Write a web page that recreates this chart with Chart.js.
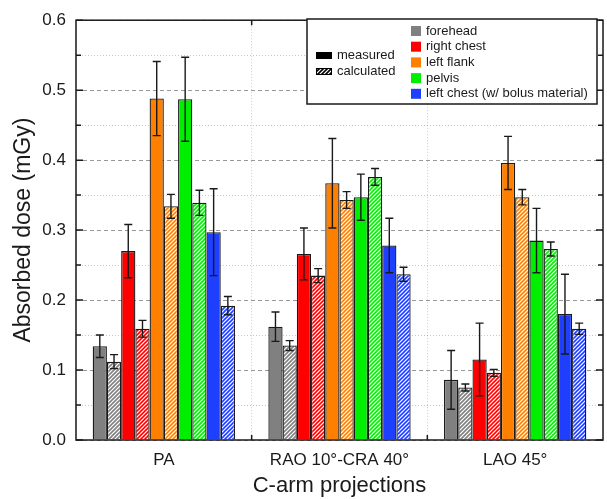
<!DOCTYPE html>
<html>
<head>
<meta charset="utf-8">
<script src="https://cdn.jsdelivr.net/npm/chart.js@4.4.1/dist/chart.umd.min.js"></script>
<style>
  html, body { margin: 0; padding: 0; background: #fff; }
</style>
</head>
<body>
<canvas id="doseChart" width="607" height="499"></canvas>
<script>
const categories = ['PA', 'RAO 10°-CRA 40°', 'LAO 45°'];
const regions = ['forehead', 'right chest', 'left flank', 'pelvis', 'left chest (w/ bolus material)'];
const yTicks = [0, 0.1, 0.2, 0.3, 0.4, 0.5, 0.6];

// one row per region, one value per projection
const measuredDose = [
  [0.134, 0.162, 0.086],
  [0.270, 0.266, 0.115],
  [0.488, 0.367, 0.396],
  [0.487, 0.347, 0.285],
  [0.297, 0.278, 0.180]
];
const measuredErr = [
  [0.016, 0.021, 0.042],
  [0.038, 0.037, 0.052],
  [0.053, 0.064, 0.038],
  [0.060, 0.033, 0.046],
  [0.062, 0.039, 0.057]
];
const calculatedDose = [
  [0.112, 0.135, 0.075],
  [0.159, 0.235, 0.096],
  [0.334, 0.343, 0.347],
  [0.339, 0.376, 0.273],
  [0.192, 0.237, 0.159]
];
const calculatedErr = [
  [0.010, 0.007, 0.005],
  [0.012, 0.010, 0.005],
  [0.017, 0.012, 0.011],
  [0.018, 0.012, 0.010],
  [0.013, 0.010, 0.008]
];

const colors = ['#808080', '#ff0000', '#ff8000', '#00ee00', '#1f3fff'];
const ink = '#1a1a1a';
const font = "'Liberation Sans', Arial, sans-serif";

function hatch(color) {
  const c = document.createElement('canvas');
  c.width = 4; c.height = 4;
  const g = c.getContext('2d');
  g.fillStyle = '#fff';
  g.fillRect(0, 0, 4, 4);
  g.strokeStyle = color;
  g.lineWidth = 1.6;
  g.beginPath();
  g.moveTo(0, 4); g.lineTo(4, 0);
  g.moveTo(-1, 1); g.lineTo(1, -1);
  g.moveTo(3, 5); g.lineTo(5, 3);
  g.stroke();
  return g.createPattern(c, 'repeat');
}

const datasets = [];
regions.forEach((r, i) => {
  datasets.push({
    label: r + ' measured',
    data: measuredDose[i],
    err: measuredErr[i],
    backgroundColor: colors[i],
    borderColor: ink,
    borderWidth: 1.3
  });
  datasets.push({
    label: r + ' calculated',
    data: calculatedDose[i],
    err: calculatedErr[i],
    backgroundColor: hatch(colors[i]),
    borderColor: ink,
    borderWidth: 1.3
  });
});

const errorBars = {
  id: 'errorBars',
  afterDatasetsDraw(chart) {
    const ctx = chart.ctx;
    const y = chart.scales.y;
    ctx.save();
    ctx.strokeStyle = ink;
    ctx.lineWidth = 1.4;
    chart.data.datasets.forEach((ds, di) => {
      chart.getDatasetMeta(di).data.forEach((bar, j) => {
        const v = ds.data[j], e = ds.err[j];
        const top = y.getPixelForValue(v + e);
        const bot = y.getPixelForValue(v - e);
        const cap = 4;
        ctx.beginPath();
        ctx.moveTo(bar.x, top); ctx.lineTo(bar.x, bot);
        ctx.moveTo(bar.x - cap, top); ctx.lineTo(bar.x + cap, top);
        ctx.moveTo(bar.x - cap, bot); ctx.lineTo(bar.x + cap, bot);
        ctx.stroke();
      });
    });
    ctx.restore();
  }
};

const frame = {
  id: 'frame',
  afterDraw(chart) {
    const ctx = chart.ctx;
    const a = chart.chartArea;
    const y = chart.scales.y, x = chart.scales.x;
    ctx.save();
    ctx.strokeStyle = ink;
    ctx.lineWidth = 1.5;
    ctx.strokeRect(a.left, a.top, a.right - a.left, a.bottom - a.top);

    // inward ticks on both sides
    ctx.beginPath();
    y.ticks.forEach((t, i) => {
      const py = y.getPixelForTick(i);
      const len = Math.abs(t.value * 10 - Math.round(t.value * 10)) < 1e-6 ? 7 : 5;
      ctx.moveTo(a.left, py); ctx.lineTo(a.left + len, py);
      ctx.moveTo(a.right, py); ctx.lineTo(a.right - len, py);
    });
    for (let i = 1; i < categories.length; i++) {
      const px = (x.getPixelForTick(i - 1) + x.getPixelForTick(i)) / 2;
      ctx.moveTo(px, a.bottom); ctx.lineTo(px, a.bottom - 5);
      ctx.moveTo(px, a.top); ctx.lineTo(px, a.top + 5);
    }
    ctx.stroke();

    // legend
    const lx = 307, ly = 19, lw = 290, lh = 85;
    ctx.fillStyle = '#fff';
    ctx.fillRect(lx, ly, lw, lh);
    ctx.lineWidth = 1.5;
    ctx.strokeRect(lx, ly, lw, lh);

    ctx.font = '13px ' + font;
    ctx.textBaseline = 'middle';
    ctx.fillStyle = '#000';
    ctx.fillRect(316, 52, 16, 7);
    ctx.fillStyle = hatch('#000');
    ctx.fillRect(316, 68, 16, 7);
    ctx.strokeStyle = '#000';
    ctx.lineWidth = 1;
    ctx.strokeRect(316.5, 68.5, 15, 6);
    ctx.fillStyle = ink;
    ctx.fillText('measured', 337, 55.5);
    ctx.fillText('calculated', 337, 71.5);

    regions.forEach((r, i) => {
      const cy = 31 + i * 15.7;
      ctx.fillStyle = colors[i];
      ctx.fillRect(411, cy - 5, 10, 10);
      ctx.fillStyle = ink;
      ctx.fillText(r, 426, cy);
    });
    ctx.restore();
  }
};

new Chart(document.getElementById('doseChart'), {
  type: 'bar',
  data: { labels: categories, datasets },
  options: {
    responsive: false,
    animation: false,
    layout: { padding: { top: 14, right: 4, left: 0, bottom: 0 } },
    plugins: { legend: { display: false }, tooltip: { enabled: false } },
    datasets: { bar: { categoryPercentage: 0.81, barPercentage: 1.0 } },
    scales: {
      x: {
        afterFit(s) { s.height = 59; },
        grid: { offset: true, drawTicks: false, color: 'rgba(0,0,0,0.2)', lineWidth: 1 },
        border: { display: false, dash: [1, 2] },
        ticks: { color: ink, padding: 10, font: { family: font, size: 17 } },
        title: { display: true, text: 'C-arm projections', color: ink, padding: { top: 0, bottom: 0 }, font: { family: font, size: 22 } }
      },
      y: {
        min: 0,
        max: 0.6,
        afterFit(s) { s.width = 76; },
        ticks: {
          stepSize: 0.05,
          color: ink,
          padding: 10,
          font: { family: font, size: 17 },
          callback(v) {
            const i = yTicks.findIndex(t => Math.abs(t - v) < 1e-6);
            return i >= 0 ? yTicks[i].toFixed(1) : '';
          }
        },
        grid: {
          drawTicks: false,
          lineWidth: 1,
          color(ctx) {
            const v = ctx.tick ? ctx.tick.value : 0;
            return yTicks.some(t => Math.abs(t - v) < 1e-6) ? 'rgba(0,0,0,0.4)' : 'rgba(0,0,0,0.22)';
          }
        },
        border: {
          display: false,
          dash(ctx) {
            const v = ctx.tick ? ctx.tick.value : 0;
            return yTicks.some(t => Math.abs(t - v) < 1e-6) ? [4, 3] : [1, 2];
          }
        },
        title: { display: true, text: 'Absorbed dose (mGy)', color: ink, padding: { top: 10, bottom: 0 }, font: { family: font, size: 23 } }
      }
    }
  },
  plugins: [errorBars, frame]
});
</script>
</body>
</html>
